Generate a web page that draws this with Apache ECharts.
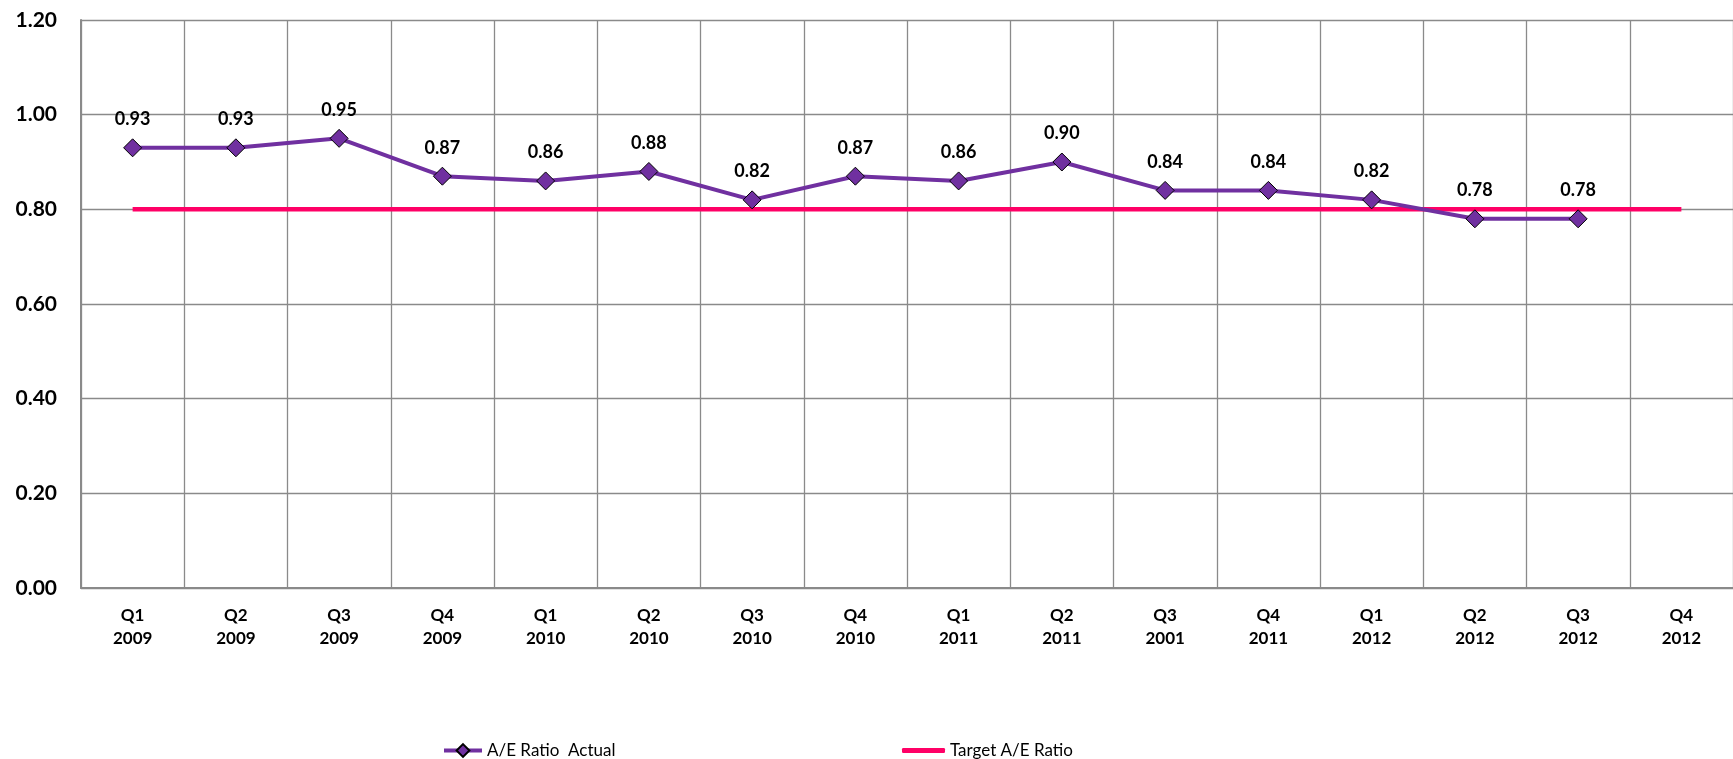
<!DOCTYPE html>
<html>
<head>
<meta charset="utf-8">
<script src="https://cdn.jsdelivr.net/npm/echarts@6/dist/echarts.min.js"></script>
<style>
  html, body { margin: 0; padding: 0; background: #fff; }
  #data-chart { width: 1733px; height: 759px; }
</style>
</head>
<body>
<div id="data-chart"></div>
<script>
// A/E Ratio chart

var quarters = ['Q1\n2009', 'Q2\n2009', 'Q3\n2009', 'Q4\n2009', 'Q1\n2010', 'Q2\n2010', 'Q3\n2010', 'Q4\n2010',
	'Q1\n2011', 'Q2\n2011', 'Q3\n2001', 'Q4\n2011', 'Q1\n2012', 'Q2\n2012', 'Q3\n2012', 'Q4\n2012'];
var actualRatio = [0.93, 0.93, 0.95, 0.87, 0.86, 0.88, 0.82, 0.87, 0.86, 0.90, 0.84, 0.84, 0.82, 0.78, 0.78, null];
var targetRatio = [0.80, 0.80, 0.80, 0.80, 0.80, 0.80, 0.80, 0.80, 0.80, 0.80, 0.80, 0.80, 0.80, 0.80, 0.80, 0.80];

var font = 'Lato, "Open Sans", sans-serif';
var gridColor = '#8a8a8a';

var dom = document.getElementById('data-chart');
var myChart = echarts.init(dom, null, {
	renderer: 'canvas',
	useDirtyRect: false
});

var option = {
	animation: false,
	backgroundColor: '#fff',
	grid: {
		left: 81,
		top: 20,
		right: -6,
		bottom: 171
	},
	legend: [{
		left: 437,
		top: 737,
		itemWidth: 38,
		itemHeight: 16,
		itemGap: 6,
		lineStyle: { width: 4 },
		textStyle: { fontFamily: font, fontSize: 17, color: '#000' },
		data: ['A/E Ratio  Actual']
	}, {
		left: 897,
		top: 737,
		itemWidth: 43,
		itemHeight: 5,
		itemGap: 3,
		textStyle: { fontFamily: font, fontSize: 17, color: '#000' },
		data: [{ name: 'Target A/E Ratio', icon: 'roundRect' }]
	}],
	xAxis: {
		type: 'category',
		data: quarters,
		boundaryGap: true,
		axisLine: { show: true, lineStyle: { color: gridColor, width: 2 } },
		axisTick: { show: false },
		splitLine: { show: true, interval: 0, lineStyle: { color: gridColor, width: 1.3 } },
		axisLabel: {
			interval: 0,
			margin: 16,
			color: '#000',
			fontFamily: font,
			fontWeight: 'bold',
			fontSize: 17,
			lineHeight: 23
		}
	},
	yAxis: {
		type: 'value',
		min: 0,
		max: 1.2,
		interval: 0.2,
		axisLine: { show: true, lineStyle: { color: gridColor, width: 2 } },
		axisTick: { show: false },
		splitLine: { show: true, lineStyle: { color: gridColor, width: 1.3 } },
		axisLabel: {
			margin: 24,
			color: '#000',
			fontFamily: font,
			fontWeight: 'bold',
			fontSize: 21,
			formatter: function (v) { return v.toFixed(2); }
		}
	},
	series: [{
		name: 'Target A/E Ratio',
		type: 'line',
		data: targetRatio,
		symbol: 'none',
		lineStyle: { color: '#ff0066', width: 4.5 },
		itemStyle: { color: '#ff0066' },
		z: 2
	}, {
		name: 'A/E Ratio  Actual',
		type: 'line',
		data: actualRatio,
		symbol: 'diamond',
		symbolSize: 18,
		lineStyle: { color: '#7030a0', width: 4 },
		itemStyle: { color: '#7030a0', borderColor: '#000', borderWidth: 1 },
		label: {
			show: true,
			position: 'top',
			distance: 10,
			color: '#000',
			fontFamily: font,
			fontWeight: 'bold',
			fontSize: 18,
			formatter: function (p) { return p.value.toFixed(2); }
		},
		z: 3
	}]
};

if (option && typeof option === 'object') {
	myChart.setOption(option);
}

window.addEventListener('resize', myChart.resize);
// A/E Ratio chart End
</script>
</body>
</html>
